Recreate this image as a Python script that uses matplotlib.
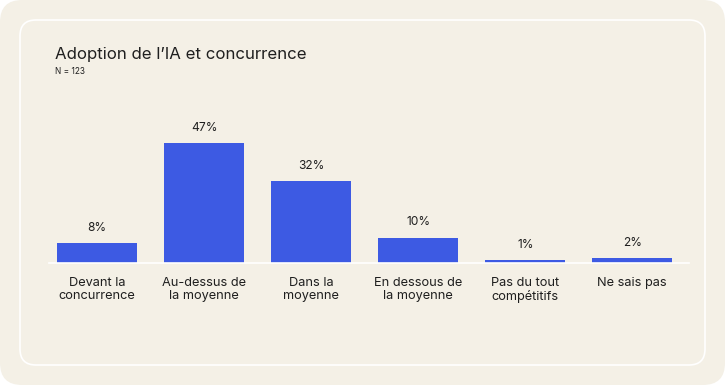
import matplotlib
matplotlib.use("Agg")
import matplotlib.pyplot as plt
from matplotlib.patches import FancyBboxPatch

categories = ["Devant la\nconcurrence", "Au-dessus de\nla moyenne", "Dans la\nmoyenne",
              "En dessous de\nla moyenne", "Pas du tout\ncompétitifs", "Ne sais pas"]
values = [8, 47, 32, 10, 1, 2]
value_labels = ["8%", "47%", "32%", "10%", "1%", "2%"]
title = "Adoption de l’IA et concurrence"
subtitle = "N = 123"

W, H = 725, 385
bg = "#F4F0E6"
bar_color = "#3D5AE3"
text_color = "#1F1F1F"
plt.rcParams['font.family'] = ['Inter', 'DejaVu Sans']

fig = plt.figure(figsize=(W/100, H/100), dpi=100)
fig.patch.set_facecolor("white")

def fx(px): return px / W
def fy(py): return 1 - py / H

outer = FancyBboxPatch((0, 0), W, H, boxstyle="round,pad=0,rounding_size=22",
                       transform=None, facecolor=bg, edgecolor="none", zorder=-5)
fig.patches.append(outer)
inner = FancyBboxPatch((20, 20), 685, 345, boxstyle="round,pad=0,rounding_size=16",
                       transform=None, facecolor="none", edgecolor="white", linewidth=1.2, zorder=-4)
fig.patches.append(inner)

fig.text(fx(55), fy(55), title, fontsize=12.1, color=text_color, va="center", ha="left")
fig.text(fx(55), fy(72), subtitle, fontsize=6, color=text_color, va="center", ha="left")

base_y = 263
top_y = 110
ax = fig.add_axes([fx(49), fy(base_y), fx(689) - fx(49), (base_y - top_y) / H])
ax.set_zorder(2)
ax.set_facecolor("none")
x = list(range(len(categories)))
ax.bar(x, values, width=0.75, color=bar_color)
ax.set_xlim(-0.45, 5.53)
ax.set_ylim(0, (base_y - top_y) / 2.55)
for xi, v, lab in zip(x, values, value_labels):
    ax.annotate(lab, (xi, v), xytext=(0, 6.5), textcoords="offset points",
                ha="center", va="bottom", fontsize=8.6, color=text_color)
for s in ["top", "right", "left"]:
    ax.spines[s].set_visible(False)
ax.spines["bottom"].set_color("white")
ax.spines["bottom"].set_linewidth(1.2)
ax.set_yticks([])
ax.set_xticks(x)
ax.set_xticklabels(categories, fontsize=9.2, color=text_color, linespacing=1.12)
ax.tick_params(axis="x", length=0, pad=10)

fig.savefig("out.png", dpi=100, facecolor=fig.get_facecolor())
